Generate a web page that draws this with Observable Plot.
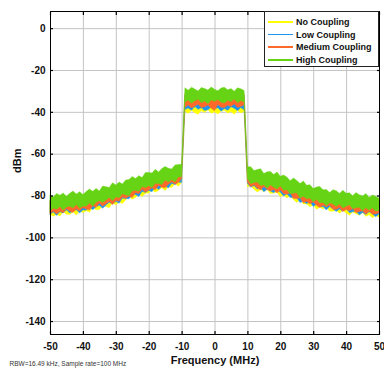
<!DOCTYPE html>
<html>
<head>
<meta charset="utf-8">
<script src="https://cdn.jsdelivr.net/npm/d3@7"></script>
<script src="https://cdn.jsdelivr.net/npm/@observablehq/plot@0.6"></script>
<style>
  html, body { margin: 0; padding: 0; background: #fff; }
  #wrap { position: relative; width: 384px; height: 368px; font-family: "Liberation Sans", Arial, Helvetica, sans-serif; }
  #legend { position: absolute; left: 264px; top: 11px; width: 113px; height: 54px; border: 1.3px solid #222; background: #fff; box-sizing: content-box; }
  .row { position: absolute; left: 0; height: 12px; display: flex; align-items: center; }
  .sw { width: 25px; height: 1.6px; margin-left: 3px; margin-right: 3px; }
  .lb { font-size: 9px; font-weight: bold; color: #111; white-space: nowrap; }
</style>
</head>
<body>
<div id="wrap"></div>
<script>
// Frequency samples (MHz)
const freq = [-50,-49,-48,-47,-46,-45,-44,-43,-42,-41,-40,-39,-38,-37,-36,-35,-34,-33,-32,-31,-30,-29,-28,-27,-26,-25,-24,-23,-22,-21,-20,-19,-18,-17,-16,-15,-14,-13,-12,-11,-10,
  -9,-8,-7,-6,-5,-4,-3,-2,-1,0,1,2,3,4,5,6,7,8,9,
  10,11,12,13,14,15,16,17,18,19,20,21,22,23,24,25,26,27,28,29,30,31,32,33,34,35,36,37,38,39,40,41,42,43,44,45,46,47,48,49,50];

const seriesNames = ["No Coupling", "Low Coupling", "Medium Coupling", "High Coupling"];
const seriesColors = ["#FFFF00", "#1E96F0", "#FF6A2B", "#66D414"];

// High Coupling (upper / lower envelope, dBm)
const highHi = [-79.9,-80.7,-79.0,-79.9,-78.8,-80.3,-78.9,-77.9,-79.3,-78.2,-79.5,-78.1,-76.9,-78.0,-76.6,-77.8,-75.5,-75.8,-76.2,-73.9,-75.0,-73.6,-74.5,-72.6,-72.4,-70.9,-71.9,-70.5,-71.4,-69.0,-69.0,-69.2,-67.5,-68.8,-67.1,-66.1,-67.0,-67.3,-65.4,-65.2,-65.0,
  -28.5,-29.7,-28.2,-29.1,-30.0,-28.4,-28.8,-29.6,-28.1,-29.2,-29.9,-28.6,-28.3,-29.5,-28.9,-30.2,-28.5,-29.0,-29.8,
  -66.3,-66.2,-68.1,-67.6,-67.2,-69.5,-68.7,-68.5,-69.9,-68.8,-70.8,-70.2,-71.2,-73.0,-71.6,-72.8,-74.2,-73.1,-75.1,-74.8,-76.7,-75.9,-75.7,-77.3,-77.1,-78.6,-77.2,-77.7,-79.0,-77.5,-78.9,-78.7,-80.1,-78.6,-79.6,-80.2,-79.0,-80.9,-79.8,-80.4,-81.3];
const highLo = [-87.5,-86.1,-86.6,-85.3,-87.0,-85.5,-85.1,-86.0,-84.3,-86.1,-85.0,-85.1,-83.6,-85.1,-83.2,-82.5,-83.4,-82.3,-81.0,-82.5,-80.7,-81.1,-79.2,-79.7,-80.1,-77.8,-77.5,-78.0,-75.7,-76.3,-75.3,-76.2,-74.2,-74.3,-74.7,-72.6,-73.6,-72.4,-73.5,-71.2,-71.0,
  -35.4,-34.3,-35.9,-34.7,-34.0,-35.6,-34.8,-36.1,-34.4,-35.0,-34.1,-35.4,-35.8,-34.5,-35.2,-33.9,-35.7,-34.6,-35.3,
  -71.9,-74.4,-73.8,-73.5,-75.3,-74.8,-76.5,-75.0,-76.0,-76.9,-75.4,-77.5,-77.3,-79.2,-78.9,-78.7,-81.2,-80.4,-81.6,-81.2,-83.1,-81.8,-83.6,-83.3,-84.9,-83.5,-84.1,-85.2,-84.1,-86.0,-85.1,-84.4,-86.3,-85.9,-85.6,-87.3,-85.8,-87.0,-86.0,-87.5,-87.0];

// Medium Coupling
const medHi = [-82.3,-82.1,-81.9,-81.7,-81.5,-81.3,-81.2,-81.0,-80.9,-80.8,-80.7,-80.3,-79.9,-79.5,-79.1,-78.7,-78.3,-77.9,-77.5,-77.1,-76.7,-76.2,-75.6,-75.0,-74.4,-73.9,-73.3,-72.8,-72.2,-71.7,-71.2,-70.8,-70.4,-70.0,-69.6,-69.2,-68.8,-68.4,-68.0,-67.5,-66.5,
  -31.3,-31.3,-31.3,-31.3,-31.3,-31.3,-31.3,-31.3,-31.3,-31.3,-31.3,-31.3,-31.3,-31.3,-31.3,-31.3,-31.3,-31.3,-31.3,
  -68.0,-69.0,-69.5,-70.0,-70.3,-70.6,-70.9,-71.2,-71.5,-71.8,-72.1,-72.7,-73.3,-73.9,-74.5,-75.1,-75.7,-76.3,-76.9,-77.4,-77.9,-78.3,-78.7,-79.0,-79.3,-79.6,-79.9,-80.2,-80.4,-80.6,-80.8,-81.0,-81.2,-81.4,-81.6,-81.8,-82.0,-82.2,-82.4,-82.6,-82.8];
const medLo = [-88.7,-87.5,-88.8,-87.5,-88.2,-86.3,-87.5,-88.1,-86.5,-87.4,-85.9,-86.5,-86.9,-85.0,-85.6,-83.6,-85.1,-84.0,-82.8,-84.3,-82.4,-82.8,-80.7,-81.4,-80.4,-80.9,-78.7,-79.1,-77.0,-78.4,-77.4,-76.4,-77.3,-75.2,-76.1,-76.3,-74.6,-73.5,-74.6,-73.8,-72.0,
  -37.9,-36.7,-38.2,-37.3,-36.4,-38.0,-37.6,-36.8,-38.3,-39.5,-36.5,-37.8,-38.1,-36.9,-37.5,-36.2,-37.9,-37.4,-36.6,
  -73.7,-75.8,-74.9,-76.4,-77.4,-75.7,-77.1,-77.9,-77.1,-78.8,-77.4,-79.2,-79.4,-78.8,-81.4,-81.4,-81.2,-83.5,-82.7,-84.0,-83.1,-84.7,-85.7,-84.7,-85.5,-84.6,-86.6,-86.7,-85.8,-87.7,-86.7,-87.3,-86.3,-88.2,-87.6,-87.4,-89.0,-87.5,-89.0,-88.8,-88.3];

// Low Coupling
const lowHi = [-82.8,-82.6,-82.4,-82.2,-82.0,-81.8,-81.7,-81.5,-81.4,-81.3,-81.2,-80.8,-80.4,-80.0,-79.6,-79.2,-78.8,-78.4,-78.0,-77.6,-77.2,-76.7,-76.1,-75.5,-74.9,-74.4,-73.8,-73.3,-72.7,-72.2,-71.7,-71.3,-70.9,-70.5,-70.1,-69.7,-69.3,-68.9,-68.5,-68.0,-67.0,
  -31.8,-31.8,-31.8,-31.8,-31.8,-31.8,-31.8,-31.8,-31.8,-31.8,-31.8,-31.8,-31.8,-31.8,-31.8,-31.8,-31.8,-31.8,-31.8,
  -68.5,-69.5,-70.0,-70.5,-70.8,-71.1,-71.4,-71.7,-72.0,-72.3,-72.6,-73.2,-73.8,-74.4,-75.0,-75.6,-76.2,-76.8,-77.4,-77.9,-78.4,-78.8,-79.2,-79.5,-79.8,-80.1,-80.4,-80.7,-80.9,-81.1,-81.3,-81.5,-81.7,-81.9,-82.1,-82.3,-82.5,-82.7,-82.9,-83.1,-83.3];
const lowLo = [-88.9,-87.9,-89.5,-87.8,-88.4,-86.8,-88.4,-87.4,-86.8,-88.3,-86.9,-87.0,-85.5,-86.8,-85.4,-84.7,-86.1,-84.7,-83.2,-84.1,-82.8,-83.7,-81.2,-81.5,-81.6,-79.8,-79.5,-80.5,-78.0,-78.6,-77.6,-78.2,-75.9,-77.1,-75.6,-75.5,-76.4,-74.1,-74.8,-73.6,-73.8,
  -38.9,-38.2,-39.3,-37.5,-38.8,-38.1,-39.4,-39.0,-37.7,-38.6,-38.0,-39.7,-38.4,-39.2,-37.6,-38.3,-39.5,-37.9,-39.1,
  -74.3,-76.0,-75.2,-76.9,-76.2,-78.2,-77.0,-77.8,-78.7,-77.3,-78.5,-80.2,-79.1,-81.0,-80.8,-81.1,-83.4,-82.7,-83.9,-83.0,-85.2,-84.2,-85.5,-85.2,-86.9,-85.3,-86.4,-87.6,-86.5,-87.5,-86.2,-88.2,-87.8,-87.3,-89.3,-88.1,-89.1,-87.8,-88.8,-90.1,-88.8];

// No Coupling
const noHi = [-83.3,-83.1,-82.9,-82.7,-82.5,-82.3,-82.2,-82.0,-81.9,-81.8,-81.7,-81.3,-80.9,-80.5,-80.1,-79.7,-79.3,-78.9,-78.5,-78.1,-77.7,-77.2,-76.6,-76.0,-75.4,-74.9,-74.3,-73.8,-73.2,-72.7,-72.2,-71.8,-71.4,-71.0,-70.6,-70.2,-69.8,-69.4,-69.0,-68.5,-67.5,
  -32.3,-32.3,-32.3,-32.3,-32.3,-32.3,-32.3,-32.3,-32.3,-32.3,-32.3,-32.3,-32.3,-32.3,-32.3,-32.3,-32.3,-32.3,-32.3,
  -69.0,-70.0,-70.5,-71.0,-71.3,-71.6,-71.9,-72.2,-72.5,-72.8,-73.1,-73.7,-74.3,-74.9,-75.5,-76.1,-76.7,-77.3,-77.9,-78.4,-78.9,-79.3,-79.7,-80.0,-80.3,-80.6,-80.9,-81.2,-81.4,-81.6,-81.8,-82.0,-82.2,-82.4,-82.6,-82.8,-83.0,-83.2,-83.4,-83.6,-83.8];
const noLo = [-88.9,-89.9,-89.0,-89.9,-87.8,-88.9,-89.1,-87.8,-89.3,-87.3,-88.2,-87.3,-88.0,-85.7,-86.8,-86.7,-85.0,-85.3,-85.8,-83.5,-84.5,-83.1,-83.8,-82.1,-80.5,-81.8,-80.9,-79.4,-80.5,-78.9,-78.9,-77.2,-78.4,-77.5,-76.3,-77.6,-75.8,-76.2,-74.3,-75.6,-73.8,
  -39.6,-40.8,-39.2,-40.4,-41.1,-39.5,-40.3,-39.0,-40.7,-40.1,-41.0,-39.7,-39.3,-40.6,-39.9,-41.2,-39.4,-40.5,-39.8,
  -75.9,-75.4,-77.0,-78.3,-77.1,-78.2,-77.1,-79.2,-78.8,-78.5,-80.6,-79.7,-81.1,-80.4,-81.9,-83.3,-82.0,-84.0,-84.0,-85.4,-84.5,-86.6,-85.6,-86.5,-85.5,-87.5,-87.5,-87.0,-88.5,-87.0,-88.3,-89.4,-87.9,-88.7,-89.4,-88.1,-90.0,-89.2,-90.6,-89.5,-90.4];

const xTicks = [-50,-40,-30,-20,-10,0,10,20,30,40,50];
const yTicks = [0,-20,-40,-60,-80,-100,-120,-140];
const xDomain = [-50, 50];
const yDomain = [-146.2, 8.2];

const lows = [noLo, lowLo, medLo, highLo];
const highs = [noHi, lowHi, medHi, highHi];

const FONT = "'Liberation Sans', Arial, Helvetica, sans-serif";
const fmt = d => String(d);

function table(k) {
  return freq.map((f, i) => ({f, lo: lows[k][i], hi: highs[k][i]}));
}

const areas = seriesNames.map((name, k) =>
  Plot.areaY(table(k), {x: "f", y1: "lo", y2: "hi", fill: seriesColors[k], stroke: seriesColors[k], strokeWidth: 0.4})
);

const chart = Plot.plot({
  width: 384,
  height: 368,
  marginLeft: 50,
  marginRight: 5,
  marginTop: 11,
  marginBottom: 34,
  style: {fontFamily: FONT, background: "#fff", overflow: "visible"},
  x: {domain: xDomain},
  y: {domain: yDomain},
  marks: [
    Plot.gridX(xTicks, {stroke: "#c4c4c4", strokeOpacity: 1, strokeWidth: 1}),
    Plot.gridY(yTicks, {stroke: "#c4c4c4", strokeOpacity: 1, strokeWidth: 1}),
    ...areas,
    Plot.frame({stroke: "#000", strokeWidth: 1}),
    Plot.axisX(xTicks, {anchor: "bottom", tickSize: -3, tickFormat: () => "", label: null, strokeWidth: 1.2}),
    Plot.axisX(xTicks, {anchor: "top", tickSize: -3, tickFormat: () => "", label: null, strokeWidth: 1.2}),
    Plot.axisY(yTicks, {anchor: "left", tickSize: -3, tickFormat: () => "", label: null, strokeWidth: 1.2}),
    Plot.axisY(yTicks, {anchor: "right", tickSize: -3, tickFormat: () => "", label: null, strokeWidth: 1.2}),
    Plot.axisX(xTicks, {anchor: "bottom", tickSize: 0, tickPadding: 8, tickFormat: fmt, label: null, fontSize: 10, fontWeight: "bold", fill: "#111"}),
    Plot.axisY(yTicks, {anchor: "left", tickSize: 0, tickPadding: 5, tickFormat: fmt, label: null, fontSize: 10, fontWeight: "bold", fill: "#111"}),
    Plot.text(["Frequency (MHz)"], {frameAnchor: "bottom", lineAnchor: "middle", dy: 26, fontSize: 11, fontWeight: "bold", fill: "#111"}),
    Plot.text(["dBm"], {frameAnchor: "left", dx: -33, rotate: -90, fontSize: 11, fontWeight: "bold", fill: "#111"}),
    Plot.text(["RBW=16.49 kHz, Sample rate=100 MHz"], {frameAnchor: "bottom-left", lineAnchor: "middle", dx: -41, dy: 29, textAnchor: "start", fontSize: 6.5, fill: "#333"})
  ]
});

const wrap = document.getElementById("wrap");
wrap.appendChild(chart);

const legend = document.createElement("div");
legend.id = "legend";
seriesNames.forEach((name, k) => {
  const row = document.createElement("div");
  row.className = "row";
  row.style.top = (4 + k * 12.6) + "px";
  const sw = document.createElement("div");
  sw.className = "sw";
  sw.style.background = seriesColors[k];
  const lb = document.createElement("span");
  lb.className = "lb";
  lb.textContent = name;
  row.appendChild(sw);
  row.appendChild(lb);
  legend.appendChild(row);
});
wrap.appendChild(legend);
</script>
</body>
</html>
